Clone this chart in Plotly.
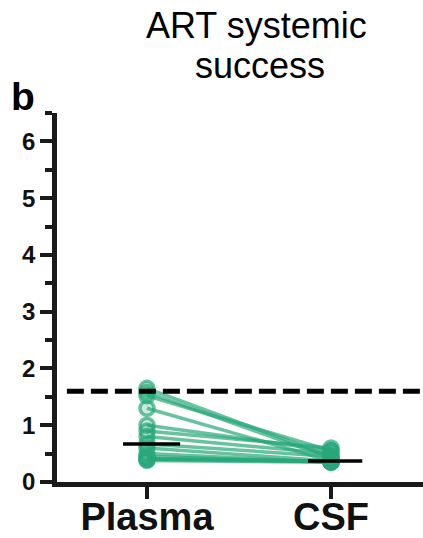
import numpy as np
import plotly.graph_objects as go

categories = ["Plasma", "CSF"]
plasma = [1.65, 1.58, 1.52, 1.30, 1.00, 0.90, 0.80, 0.67, 0.60, 0.50, 0.45, 0.42, 0.40, 0.38, 0.40]
csf    = [0.45, 0.42, 0.55, 0.37, 0.55, 0.60, 0.50, 0.45, 0.37, 0.35, 0.35, 0.36, 0.37, 0.35, 0.36]
threshold = 1.6
y_ticks = [0, 1, 2, 3, 4, 5, 6]

green = "rgba(40,168,122,0.7)"

fig = go.Figure()
for p, c in zip(plasma, csf):
    fig.add_trace(go.Scatter(
        x=[0, 1], y=[p, c], mode="lines+markers",
        line=dict(color=green, width=3.5),
        marker=dict(symbol="circle", size=14, color="rgba(40,168,122,0.25)",
                    line=dict(color=green, width=3.5)),
        showlegend=False, hoverinfo="skip"))

med_p = float(np.median(plasma))
med_c = float(np.median(csf))
fig.add_shape(type="line", x0=-0.13, x1=0.18, y0=med_p, y1=med_p,
              line=dict(color="black", width=3.5))
fig.add_shape(type="line", x0=0.875, x1=1.17, y0=med_c, y1=med_c,
              line=dict(color="black", width=3.5))
fig.add_shape(type="line", xref="paper", x0=0.027, x1=1.0, y0=threshold, y1=threshold,
              line=dict(color="black", width=5, dash="17px,7px"))

fig.add_annotation(text="ART systemic", xref="paper", yref="paper",
                   x=0.546, y=1.297, xanchor="center", yanchor="top", showarrow=False,
                   font=dict(family="Liberation Sans", size=36, color="black"))
fig.add_annotation(text="success", xref="paper", yref="paper",
                   x=0.555, y=1.19, xanchor="center", yanchor="top", showarrow=False,
                   font=dict(family="Liberation Sans", size=36, color="black"))
fig.add_annotation(text="b", xref="paper", yref="paper",
                   x=-0.13, y=1.108, xanchor="left", yanchor="top", showarrow=False,
                   font=dict(family="Liberation Sans", size=39, color="black", weight="bold"))

fig.update_layout(
    width=423, height=538, margin=dict(l=57, r=0, t=113, b=56),
    plot_bgcolor="white", paper_bgcolor="white",
    xaxis=dict(range=[-0.489, 1.5], tickvals=[0, 1], ticktext=categories, automargin=False,
               showgrid=False, zeroline=False, showline=True, linewidth=4.5, linecolor="#1a1a1a",
               ticks="outside", ticklen=12, tickwidth=3.5, tickcolor="#1a1a1a",
               ticklabelstandoff=-14,
               tickfont=dict(family="Liberation Sans", size=38, color="#111", weight="bold")),
    yaxis=dict(range=[0, 6.5], tickvals=y_ticks, automargin=False,
               showgrid=False, zeroline=False, showline=True, linewidth=4.5, linecolor="#1a1a1a",
               ticks="outside", ticklen=12, tickwidth=3.5, tickcolor="#1a1a1a",
               tickfont=dict(family="Liberation Sans", size=24, color="#111", weight="bold"),
               minor=dict(dtick=0.5, ticks="outside", ticklen=7, tickwidth=3.5, tickcolor="#1a1a1a")),
)

fig.write_html("out.html")
